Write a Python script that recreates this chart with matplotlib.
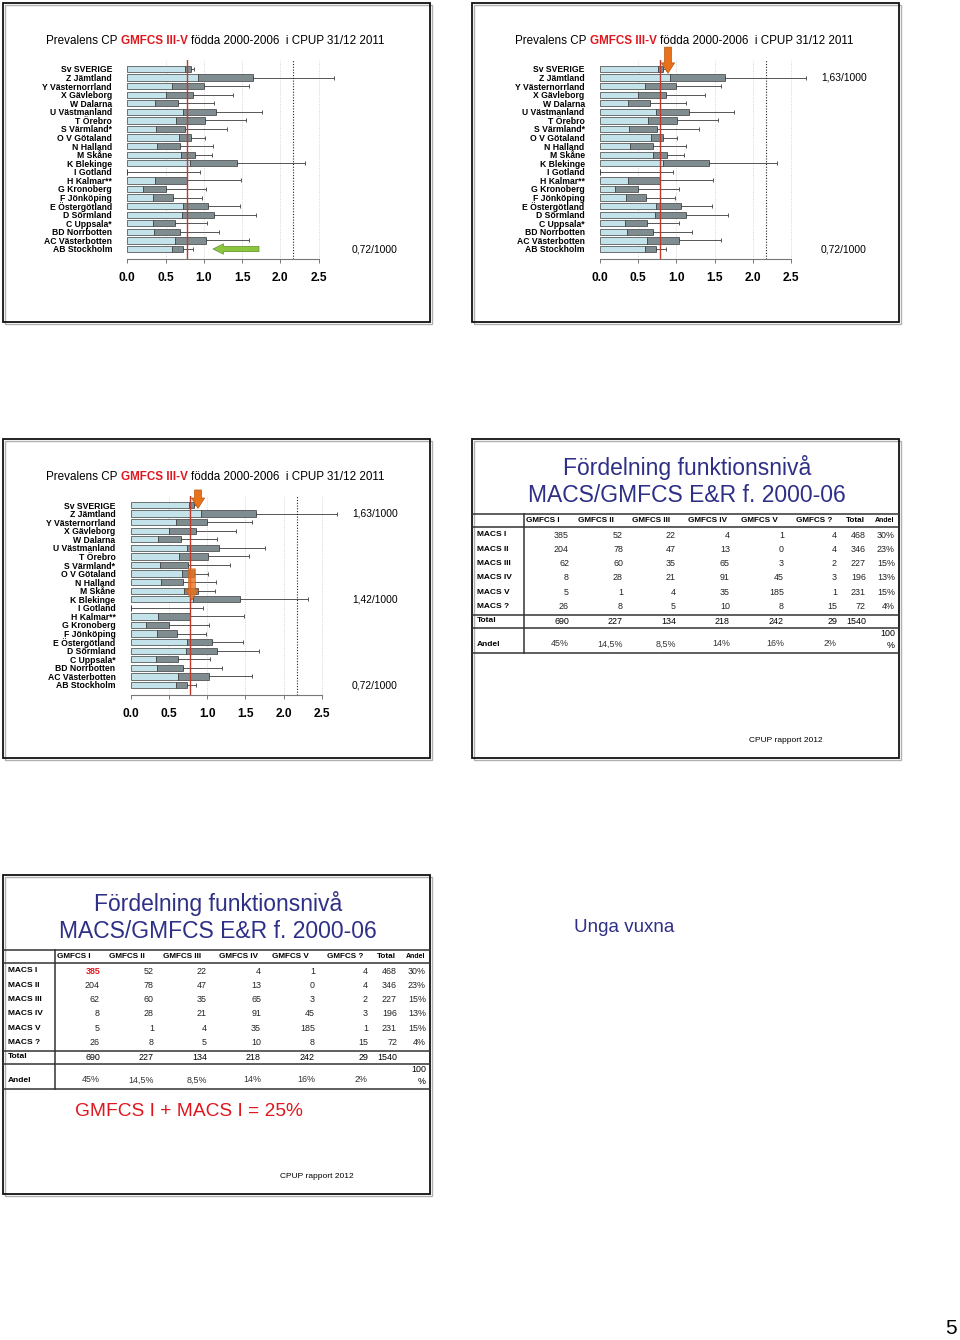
import numpy as np
import matplotlib
matplotlib.use('Agg')
import matplotlib.pyplot as plt
from matplotlib.transforms import Affine2D
from matplotlib.patches import Rectangle
from matplotlib.lines import Line2D
from matplotlib.text import Annotation

plt.rcParams['font.family'] = ['Liberation Sans', 'DejaVu Sans']

# Prevalence per county (per 1000), lower CI / estimate / upper CI
regions = ["Sv SVERIGE", "Z Jämtland", "Y Västernorrland", "X Gävleborg", "W Dalarna",
           "U Västmanland", "T Örebro", "S Värmland*", "O V Götaland", "N Halland",
           "M Skåne", "K Blekinge", "I Gotland", "H Kalmar**", "G Kronoberg",
           "F Jönköping", "E Östergötland", "D Sörmland", "C Uppsala*", "BD Norrbotten",
           "AC Västerbotten", "AB Stockholm"]
ci_low = [0.76, 0.92, 0.59, 0.50, 0.36, 0.73, 0.63, 0.38, 0.67, 0.39, 0.70,
          0.82, 0.00, 0.36, 0.20, 0.34, 0.73, 0.72, 0.33, 0.35, 0.62, 0.59]
prev = [0.83, 1.64, 1.00, 0.86, 0.66, 1.16, 1.01, 0.75, 0.83, 0.69, 0.88,
        1.43, 0.00, 0.78, 0.50, 0.60, 1.06, 1.13, 0.62, 0.69, 1.03, 0.73]
ci_high = [0.87, 2.70, 1.59, 1.38, 1.13, 1.76, 1.55, 1.30, 1.01, 1.12, 1.10,
           2.32, 0.95, 1.48, 1.03, 0.98, 1.47, 1.68, 1.04, 1.20, 1.59, 0.86]
sweden_ref = 0.78
dotted_ref = 2.17
xticks = [0.0, 0.5, 1.0, 1.5, 2.0, 2.5]

# MACS / GMFCS table
gmfcs_cols = ["GMFCS I", "GMFCS II", "GMFCS III", "GMFCS IV", "GMFCS V", "GMFCS ?", "Total", "Andel"]
macs_rows = ["MACS I", "MACS II", "MACS III", "MACS IV", "MACS V", "MACS ?"]
counts = [[385, 52, 22, 4, 1, 4],
          [204, 78, 47, 13, 0, 4],
          [62, 60, 35, 65, 3, 2],
          [8, 28, 21, 91, 45, 3],
          [5, 1, 4, 35, 185, 1],
          [26, 8, 5, 10, 8, 15]]
row_totals = [468, 346, 227, 196, 231, 72]
row_share = ["30%", "23%", "15%", "13%", "15%", "4%"]
col_totals = [690, 227, 134, 218, 242, 29, 1540]
col_share = ["45%", "14,5%", "8,5%", "14%", "16%", "2%"]

LIGHT = '#c3e2ea'
DARK = '#7f8d91'
NAVY = '#2e2f86'
RED = '#e0161e'
ORANGE = '#e8711c'

W, H = 960, 1340
fig = plt.figure(figsize=(W / 100, H / 100), dpi=100)
PX = Affine2D().scale(1.0 / W, -1.0 / H).translate(0, 1) + fig.transFigure


def line(x0, y0, x1, y1, **kw):
    fig.add_artist(Line2D([x0, x1], [y0, y1], transform=PX, **kw))


def frame(sx, sy):
    fig.add_artist(Rectangle((sx + 1.5, sy + 1.5), 427, 319, transform=PX, fill=False,
                             ec='#b0b0b0', lw=1.0))
    fig.add_artist(Rectangle((sx, sy), 427, 319, transform=PX, fill=False, ec='#111111', lw=1.3))


def title_cp(sx, sy):
    fs = 8.4
    t1 = fig.text(sx + 43, sy + 38, "Prevalens CP", transform=PX, fontsize=fs, va='center')
    t2 = Annotation("GMFCS III-V", xy=(1, 0), xycoords=t1, xytext=(2.3, 0), textcoords='offset points',
                    va='bottom', fontsize=fs, color=RED, fontweight='bold')
    fig.add_artist(t2)
    t3 = Annotation("födda 2000-2006  i CPUP 31/12 2011", xy=(1, 0), xycoords=t2, xytext=(2.3, 0),
                    textcoords='offset points', va='bottom', fontsize=fs)
    fig.add_artist(t3)


def prevalens_chart(sx, sy, zero, unit, notes=(), arrows=(), green=False):
    frame(sx, sy)
    title_cp(sx, sy)
    row0, step = 66.0, 180.0 / 21
    top, bottom = 57.0, 256.0
    xl, xr = -0.1, 2.8
    left = sx + zero + xl * unit
    right = sx + zero + xr * unit
    ax = fig.add_axes([left / W, 1 - (sy + bottom) / H, (right - left) / W, (bottom - top) / H])
    ax.set_xlim(xl, xr)
    ax.set_ylim((bottom - row0) / step, (top - row0) / step)
    ax.patch.set_alpha(0)
    rows = np.arange(len(regions))
    lo = np.array(ci_low)
    pv = np.array(prev)
    hi = np.array(ci_high)
    for x in xticks[1:]:
        ax.axvline(x, color='#c8c8c8', lw=0.6, ls=':', zorder=0)
    ax.errorbar(pv, rows, xerr=[np.zeros_like(pv), hi - pv], fmt='none', ecolor='#555555',
                elinewidth=0.7, capsize=1.3, capthick=0.7, zorder=1)
    ax.barh(rows, lo, height=0.74, color=LIGHT, edgecolor='#3c3c3c', lw=0.5, zorder=2)
    ax.barh(rows, pv - lo, left=lo, height=0.74, color=DARK, edgecolor='#3c3c3c', lw=0.5, zorder=2)
    ax.axvline(sweden_ref, color='#c0392b', lw=1.0, zorder=3)
    ax.axvline(dotted_ref, color='#222222', lw=0.8, ls=(0, (1, 1.5)), zorder=3)
    ax.set_yticks(rows)
    ax.set_yticklabels(regions, fontsize=6.2, fontweight='bold',
                       family=['Liberation Sans Narrow', 'Liberation Sans'])
    ax.tick_params(axis='y', length=0, pad=5.5)
    ax.set_xticks(xticks)
    ax.set_xticklabels(["%.1f" % v for v in xticks], fontsize=8.6, fontweight='bold')
    ax.tick_params(axis='x', direction='out', length=3, width=0.7, color='#777777', pad=6.5)
    for s in ['top', 'right', 'left']:
        ax.spines[s].set_visible(False)
    ax.spines['bottom'].set_bounds(0, 2.5)
    ax.spines['bottom'].set_color('#777777')
    ax.spines['bottom'].set_linewidth(0.8)
    for row, txt in notes:
        ax.text((349 - zero) / unit, row, txt, fontsize=7.4, va='center', ha='left', clip_on=False)
    for xa, r0, r1, a in arrows:
        ax.annotate('', xy=(xa, r1), xytext=(xa, r0), annotation_clip=False,
                    arrowprops=dict(arrowstyle='simple,head_length=0.75,head_width=0.95,tail_width=0.5',
                                    fc=ORANGE, ec='#b85410', lw=0.5, alpha=a,
                                    shrinkA=0, shrinkB=0), zorder=6)
    if green:
        ax.annotate('', xy=(1.12, 21), xytext=(1.72, 21), annotation_clip=False,
                    arrowprops=dict(arrowstyle='simple,head_length=0.75,head_width=0.75,tail_width=0.38',
                                    fc='#8cc63f', ec='#5e8f2c', lw=0.5, shrinkA=0, shrinkB=0), zorder=6)
    return ax


def mtable(sx, sy, highlight=False):
    frame(sx, sy)
    fig.text(sx + 215, sy + 28, "Fördelning funktionsnivå", transform=PX, fontsize=16.5,
             color=NAVY, ha='center', va='center')
    fig.text(sx + 215, sy + 57, "MACS/GMFCS E&R f. 2000-06", transform=PX, fontsize=16.5,
             color=NAVY, ha='center', va='center')
    for y in [75, 88, 176, 189, 214]:
        line(sx, sy + y, sx + 427, sy + y, color='#333333', lw=1.1)
    line(sx + 52, sy + 75, sx + 52, sy + 214, color='#333333', lw=1.1)
    col_r = [97, 151, 204, 258, 312, 365, 394, 423]
    col_c = [71, 124, 179, 235.5, 287, 342.5, 383, 413]
    for j, name in enumerate(gmfcs_cols):
        fs = 5.0 if name == "Andel" else 5.9
        fig.text(sx + col_c[j], sy + 82, name, transform=PX, fontsize=fs, fontweight='bold',
                 ha='center', va='center')
    for i, name in enumerate(macs_rows):
        y = sy + 96 + 14.3 * i
        fig.text(sx + 5, y, name, transform=PX, fontsize=6.0, fontweight='bold', va='center')
        vals = [str(v) for v in counts[i]] + [str(row_totals[i]), row_share[i]]
        for j, v in enumerate(vals):
            c = RED if (highlight and i == 0 and j == 0) else '#222222'
            fw = 'bold' if (highlight and i == 0 and j == 0) else 'normal'
            fig.text(sx + col_r[j], y, v, transform=PX, fontsize=6.4, ha='right', va='center',
                     color=c, fontweight=fw)
    fig.text(sx + 5, sy + 182, "Total", transform=PX, fontsize=6.0, fontweight='bold', va='center')
    for j, v in enumerate(col_totals):
        fig.text(sx + col_r[j], sy + 182, str(v), transform=PX, fontsize=6.4, ha='right', va='center')
    fig.text(sx + 5, sy + 205, "Andel", transform=PX, fontsize=6.0, fontweight='bold', va='center')
    for j, v in enumerate(col_share):
        fig.text(sx + col_r[j], sy + 205, v, transform=PX, fontsize=6.4, ha='right', va='center',
                 color='#333333')
    fig.text(sx + col_r[-1], sy + 195, "100", transform=PX, fontsize=6.4, ha='right', va='center')
    fig.text(sx + col_r[-1], sy + 206, "%", transform=PX, fontsize=6.4, ha='right', va='center')
    fig.text(sx + 277, sy + 302, "CPUP rapport 2012", transform=PX, fontsize=6.0, va='center')


# slide 1
prevalens_chart(3, 3, 124.3, 76.55, notes=[(21, "0,72/1000")], green=True)
# slide 2
prevalens_chart(472, 3, 128.0, 76.4, notes=[(1, "1,63/1000"), (21, "0,72/1000")],
                arrows=[(0.89, -2.55, 0.5, 1.0)])
# slide 3
prevalens_chart(3, 439, 127.7, 76.5,
                notes=[(1, "1,63/1000"), (11, "1,42/1000"), (21, "0,72/1000")],
                arrows=[(0.88, -1.75, 0.4, 1.0), (0.80, 7.45, 11.1, 0.8)])
# slide 4
mtable(472, 439)
# slide 5
mtable(3, 875, highlight=True)
fig.text(3 + 72, 875 + 237, "GMFCS I + MACS I = 25%", transform=PX, fontsize=13.8,
         color=RED, va='center')
# slide 6
fig.text(574, 928, "Unga vuxna", transform=PX, fontsize=13.5, color=NAVY, va='center')
# page number
fig.text(957, 1328, "5", transform=PX, fontsize=15, ha='right', va='center')

fig.savefig('out.png', dpi=100)
